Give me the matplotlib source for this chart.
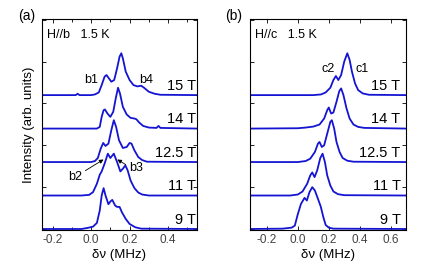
import numpy as np
import matplotlib
matplotlib.use('Agg')
import matplotlib.pyplot as plt
from matplotlib.ticker import MultipleLocator

plt.rcParams['font.family'] = ['Liberation Sans', 'DejaVu Sans']

fields = ['9 T', '11 T', '12.5 T', '14 T', '15 T']

# ---- H//b spectra (freq in MHz, intensity above baseline) ----
b9_x = [-0.25, -0.05, -0.02, 0.01, 0.03, 0.045, 0.055, 0.065, 0.075, 0.09, 0.1, 0.11,
        0.125, 0.135, 0.148, 0.16, 0.18, 0.2, 0.23, 0.26, 0.55]
b9_y = [0, 0, 0.03, 0.07, 0.18, 0.55, 1.0, 1.22, 1.0, 0.74, 0.82, 0.87,
        0.7, 0.66, 0.66, 0.5, 0.3, 0.15, 0.05, 0.01, 0]

b11_x = [-0.25, -0.05, -0.01, 0.01, 0.03, 0.045, 0.055, 0.07, 0.087, 0.1, 0.118, 0.135,
         0.152, 0.165, 0.178, 0.19, 0.205, 0.225, 0.245, 0.265, 0.3, 0.55]
b11_y = [0, 0, 0.02, 0.1, 0.35, 0.62, 0.72, 0.95, 1.25, 1.12, 1.25, 1.0,
         0.72, 0.8, 0.9, 0.75, 0.45, 0.22, 0.09, 0.03, 0, 0]

b125_x = [-0.25, 0.0, 0.02, 0.035, 0.05, 0.063, 0.075, 0.09, 0.105, 0.118, 0.13, 0.145,
          0.165, 0.185, 0.2, 0.21, 0.225, 0.245, 0.265, 0.29, 0.55]
b125_y = [0, 0, 0.03, 0.12, 0.4, 0.57, 0.48, 0.55, 0.95, 1.25, 1.05, 0.65,
          0.42, 0.45, 0.57, 0.55, 0.35, 0.15, 0.06, 0.01, 0]

b14_x = [-0.25, 0.03, 0.045, 0.055, 0.065, 0.072, 0.085, 0.1, 0.115, 0.128, 0.14, 0.15,
         0.165, 0.185, 0.205, 0.225, 0.235, 0.25, 0.27, 0.3, 0.34, 0.35, 0.36, 0.55]
b14_y = [0, 0, 0.05, 0.35, 0.55, 0.57, 0.45, 0.35, 0.5, 0.9, 1.22, 1.05,
         0.65, 0.42, 0.32, 0.3, 0.28, 0.18, 0.08, 0.03, 0.02, 0.08, 0.02, 0]

b15_x = [-0.25, -0.08, -0.07, -0.06, 0.0, 0.02, 0.04, 0.055, 0.07, 0.08, 0.09, 0.105,
         0.12, 0.135, 0.148, 0.157, 0.165, 0.18, 0.2, 0.22, 0.24, 0.26, 0.275, 0.3,
         0.33, 0.36, 0.55]
b15_y = [0, 0, 0.04, 0, 0, 0.02, 0.08, 0.3, 0.55, 0.6, 0.52, 0.4,
         0.45, 0.8, 1.15, 1.25, 1.1, 0.7, 0.45, 0.3, 0.26, 0.28, 0.22, 0.1,
         0.04, 0.01, 0]

# ---- H//c spectra ----
c9_x = [-0.3, -0.1, -0.04, -0.02, 0.0, 0.02, 0.043, 0.058, 0.075, 0.093, 0.11, 0.13,
        0.148, 0.165, 0.18, 0.2, 0.23, 0.7]
c9_y = [0, 0.01, 0.04, 0.1, 0.45, 0.75, 0.93, 0.85, 1.1, 1.25, 1.15, 0.9,
        0.67, 0.35, 0.12, 0.04, 0.01, 0]

c11_x = [-0.3, -0.05, 0.0, 0.03, 0.06, 0.08, 0.093, 0.108, 0.125, 0.145, 0.16, 0.175,
         0.19, 0.21, 0.23, 0.26, 0.3, 0.7]
c11_y = [0, 0, 0.03, 0.12, 0.35, 0.6, 0.69, 0.55, 0.75, 1.12, 1.25, 1.0,
         0.6, 0.3, 0.12, 0.04, 0.01, 0]

c125_x = [-0.3, 0.0, 0.05, 0.08, 0.11, 0.13, 0.14, 0.155, 0.17, 0.19, 0.21, 0.22,
          0.235, 0.25, 0.27, 0.29, 0.32, 0.36, 0.7]
c125_y = [0, 0, 0.03, 0.1, 0.3, 0.55, 0.6, 0.45, 0.5, 0.85, 1.2, 1.25,
          1.0, 0.6, 0.3, 0.12, 0.04, 0.01, 0]

c14_x = [-0.3, 0.0, 0.05, 0.1, 0.14, 0.17, 0.19, 0.2, 0.215, 0.23, 0.25, 0.268,
         0.28, 0.295, 0.315, 0.335, 0.36, 0.39, 0.43, 0.7]
c14_y = [0, 0.01, 0.03, 0.06, 0.12, 0.3, 0.55, 0.63, 0.45, 0.48, 0.8, 1.12,
         1.2, 1.0, 0.6, 0.3, 0.12, 0.05, 0.02, 0]

c15_x = [-0.3, 0.1, 0.15, 0.18, 0.21, 0.23, 0.246, 0.262, 0.28, 0.3, 0.32, 0.335,
         0.35, 0.37, 0.39, 0.42, 0.46, 0.7]
c15_y = [0, 0, 0.02, 0.08, 0.22, 0.45, 0.57, 0.45, 0.6, 1.0, 1.25, 1.05,
         0.7, 0.35, 0.15, 0.05, 0.01, 0]

spec_b = [(b9_x, b9_y), (b11_x, b11_y), (b125_x, b125_y), (b14_x, b14_y), (b15_x, b15_y)]
spec_c = [(c9_x, c9_y), (c11_x, c11_y), (c125_x, c125_y), (c14_x, c14_y), (c15_x, c15_y)]

blue = '#1414d2'

fig = plt.figure(figsize=(4.36, 2.76), dpi=100)
axa = fig.add_axes([0.0963, 0.1667, 0.3555, 0.764])
axb = fig.add_axes([0.5734, 0.1667, 0.3578, 0.764])


def setup(ax, xlim, major, minor):
    ax.set_xlim(*xlim)
    ax.set_ylim(-0.03, 6.27)
    ax.xaxis.set_major_locator(MultipleLocator(major))
    if minor:
        ax.xaxis.set_minor_locator(MultipleLocator(minor))
    ax.yaxis.set_major_locator(MultipleLocator(1.25))
    ax.set_yticklabels([])
    ax.tick_params(which='both', direction='in', top=True, right=True,
                   labelsize=8.5, length=3, width=0.6, pad=3, labelcolor='#444444')
    ax.tick_params(which='minor', length=2)
    for s in ax.spines.values():
        s.set_linewidth(0.8)
    ax.set_xlabel('δν (MHz)', fontsize=9.5, labelpad=2)
    ax.xaxis.set_major_formatter(matplotlib.ticker.FormatStrFormatter('%.1f'))


setup(axa, (-0.255, 0.55), 0.2, 0.1)
setup(axb, (-0.31, 0.7), 0.2, None)
axa.set_ylabel('Intensity (arb. units)', fontsize=9.5)
axa.yaxis.set_label_coords(-0.045, 0.5)

for i, (xs, ys) in enumerate(spec_b):
    axa.plot(xs, np.array(ys) + i, color=blue, lw=1.3)
    axa.text(0.545, i + 0.07, fields[i], ha='right', va='bottom', fontsize=10.5)
for i, (xs, ys) in enumerate(spec_c):
    axb.plot(xs, np.array(ys) + i, color=blue, lw=1.3)
    axb.text(0.665, i + 0.07, fields[i], ha='right', va='bottom', fontsize=10.5)

axa.text(-0.229, 5.79, 'H//b   1.5 K', fontsize=9, va='center')
axb.text(-0.278, 5.79, 'H//c   1.5 K', fontsize=9, va='center')
fig.text(27 / 436, 1 - 16 / 276, '(a)', fontsize=10, va='center', ha='center')
fig.text(234 / 436, 1 - 16 / 276, '(b)', fontsize=10, va='center', ha='center')

axa.text(-0.037, 4.45, 'b1', fontsize=9, va='center')
axa.text(0.249, 4.45, 'b4', fontsize=9, va='center')
axa.text(-0.12, 1.55, 'b2', fontsize=9, va='center')
axa.annotate('', xy=(0.077, 2.12), xytext=(-0.042, 1.70),
             arrowprops=dict(arrowstyle='-|>', lw=0.6, color='black', mutation_scale=6))
axa.text(0.197, 1.82, 'b3', fontsize=9, va='center')
axa.annotate('', xy=(0.124, 2.12), xytext=(0.192, 1.88),
             arrowprops=dict(arrowstyle='-|>', lw=0.6, color='black', mutation_scale=6))

axb.text(0.15, 4.78, 'c2', fontsize=9, va='center')
axb.text(0.37, 4.78, 'c1', fontsize=9, va='center')

fig.savefig('out.png', dpi=100)
